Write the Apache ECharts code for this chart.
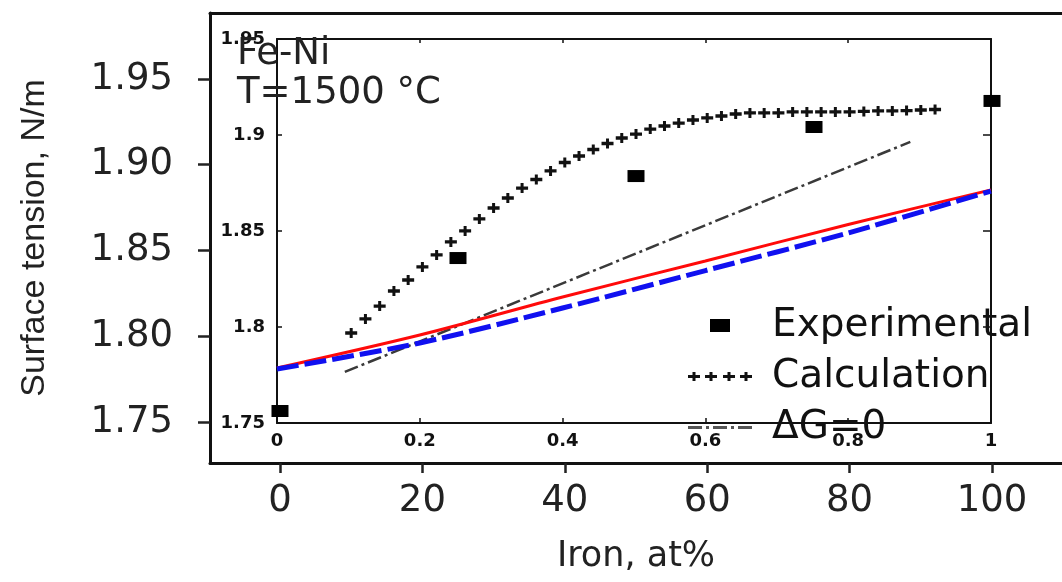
<!DOCTYPE html>
<html>
<head>
<meta charset="utf-8">
<script src="https://cdn.jsdelivr.net/npm/echarts@6/dist/echarts.min.js"></script>
<style>
  html, body { margin: 0; padding: 0; background: #fff; }
  #chart { width: 1062px; height: 582px; }
</style>
</head>
<body>
<div id="chart"></div>
<script>
// outer axes (Iron, at%  /  Surface tension, N/m)
const outerXTicks = [0, 20, 40, 60, 80, 100];
const outerYTicks = [1.75, 1.80, 1.85, 1.90, 1.95];

// experimental points (outer axes)
const expX = [0, 25, 50, 75, 100];
const expY = [1.7564, 1.8456, 1.8934, 1.9220, 1.9372];

// calculation (outer axes)
const calcX = [10, 12, 14, 16, 18, 20, 22, 24, 26, 28, 30, 32, 34, 36, 38, 40, 42, 44, 46, 48, 50,
  52, 54, 56, 58, 60, 62, 64, 66, 68, 70, 72, 74, 76, 78, 80, 82, 84, 86, 88, 90, 92];
const calcY = [1.8019, 1.8101, 1.8176, 1.8264, 1.8328, 1.8404, 1.8474, 1.8550, 1.8614, 1.8684,
  1.8748, 1.8806, 1.8864, 1.8914, 1.8964, 1.9013, 1.9051, 1.9089, 1.9124, 1.9156, 1.9179,
  1.9208, 1.9226, 1.9243, 1.9261, 1.9273, 1.9284, 1.9296, 1.9302, 1.9302, 1.9302, 1.9308,
  1.9308, 1.9308, 1.9308, 1.9308, 1.9311, 1.9314, 1.9314, 1.9316, 1.9319, 1.9322];

// inner axes (mole fraction)
const redX = [0, 0.2, 0.4, 0.6, 0.8, 1];
const redY = [1.7786, 1.7958, 1.8156, 1.8344, 1.8534, 1.8714];
const blueX = [0, 0.2, 0.4, 0.6, 0.8, 1];
const blueY = [1.7781, 1.7917, 1.8099, 1.8294, 1.8490, 1.8708];
const dgX = [0.095, 0.887];
const dgY = [1.7766, 1.8964];

const zip = (xs, ys) => xs.map((x, i) => [x, ys[i]]);

const plusPath = 'path://M0,3H4.5V0H7.5V3H12V6H7.5V9H4.5V6H0Z';
const squareIcon = 'path://M0,0H20V13H0Z';
const fourPlus = 'path://' + [0, 17, 35, 52].map(o =>
  `M${o},3H${o + 4.5}V0H${o + 7.5}V3H${o + 12}V6H${o + 7.5}V9H${o + 4.5}V6H${o}Z`).join('');
// dash-dot swatch for the legend
const dashDot = 'path://M0,0H14V3H0ZM18,0H21V3H18ZM25,0H39V3H25ZM43,0H46V3H43ZM50,0H64V3H50Z';

const bigFont = 'DejaVu Sans';
const smallLabel = { fontFamily: bigFont, fontWeight: 'bold', fontSize: 18, color: '#111' };

const chart = echarts.init(document.getElementById('chart'));
chart.setOption({
  animation: false,
  backgroundColor: '#fff',
  title: {
    text: 'Fe-Ni\nT=1500 °C',
    left: 232,
    top: 30,
    textStyle: { fontFamily: bigFont, fontSize: 37, fontWeight: 'normal', color: '#222', lineHeight: 39 }
  },
  legend: {
    orient: 'vertical',
    left: 683,
    top: 301,
    itemWidth: 64,
    itemHeight: 13,
    itemGap: 12,
    selectedMode: false,
    textStyle: { fontFamily: bigFont, fontSize: 39, color: '#111', padding: [0, 0, 0, 15], lineHeight: 38 },
    data: [
      { name: 'Experimental', icon: squareIcon, itemStyle: { color: '#000', opacity: 1 } },
      { name: 'Calculation', icon: fourPlus, itemStyle: { color: '#111', opacity: 1 } },
      { name: 'ΔG=0', icon: dashDot, itemStyle: { color: '#555', opacity: 1 } }
    ]
  },
  grid: [
    { left: 210, right: 0, top: 13, bottom: 119 },
    { left: 277, right: 71, top: 39, bottom: 159 }
  ],
  xAxis: [
    {
      gridIndex: 0, type: 'value', min: -9.83, max: 109.83, position: 'bottom',
      axisLine: { onZero: false, lineStyle: { color: '#111', width: 3 } },
      axisTick: { customValues: outerXTicks, length: 10, lineStyle: { color: '#222', width: 2.5 } },
      axisLabel: { customValues: outerXTicks, margin: 20, fontFamily: bigFont, fontSize: 37, color: '#222' },
      splitLine: { show: false },
      name: 'Iron, at%', nameLocation: 'middle', nameGap: 76,
      nameTextStyle: { fontFamily: bigFont, fontSize: 35, color: '#222' }
    },
    {
      gridIndex: 0, type: 'value', min: -9.83, max: 109.83, position: 'top',
      axisLine: { onZero: false, lineStyle: { color: '#111', width: 3 } },
      axisTick: { show: false }, axisLabel: { show: false }, splitLine: { show: false }
    },
    {
      gridIndex: 1, type: 'value', min: 0, max: 1, interval: 0.2, position: 'bottom',
      axisLine: { onZero: false, lineStyle: { color: '#111', width: 2 } },
      axisTick: { inside: true, length: 5, lineStyle: { color: '#111', width: 1.5 } },
      axisLabel: Object.assign({ margin: 9 }, smallLabel),
      splitLine: { show: false }
    },
    {
      gridIndex: 1, type: 'value', min: 0, max: 1, interval: 0.2, position: 'top',
      axisLine: { onZero: false, lineStyle: { color: '#111', width: 2 } },
      axisTick: { inside: true, length: 4, lineStyle: { color: '#111', width: 1.5 } },
      axisLabel: { show: false }, splitLine: { show: false }
    }
  ],
  yAxis: [
    {
      gridIndex: 0, type: 'value', min: 1.72609, max: 1.98848, position: 'left',
      axisLine: { onZero: false, lineStyle: { color: '#111', width: 3 } },
      axisTick: { customValues: outerYTicks, length: 12, lineStyle: { color: '#222', width: 2.5 } },
      axisLabel: {
        customValues: outerYTicks, margin: 37, fontFamily: bigFont, fontSize: 37, color: '#222',
        formatter: v => v.toFixed(2)
      },
      splitLine: { show: false },
      name: 'Surface tension, N/m', nameLocation: 'middle', nameGap: 158,
      nameTextStyle: { fontFamily: 'Liberation Sans', fontSize: 34, color: '#222' }
    },
    {
      gridIndex: 1, type: 'value', min: 1.75, max: 1.95, interval: 0.05, position: 'left',
      axisLine: { onZero: false, lineStyle: { color: '#111', width: 2 } },
      axisTick: { inside: true, length: 5, lineStyle: { color: '#111', width: 1.5 } },
      axisLabel: Object.assign({ margin: 12 }, smallLabel),
      splitLine: { show: false }
    },
    {
      gridIndex: 1, type: 'value', min: 1.75, max: 1.95, interval: 0.05, position: 'right',
      axisLine: { onZero: false, lineStyle: { color: '#111', width: 2 } },
      axisTick: { inside: true, length: 8, lineStyle: { color: '#111', width: 1.5 } },
      axisLabel: { show: false }, splitLine: { show: false }
    }
  ],
  series: [
    {
      name: 'Experimental', type: 'scatter', xAxisIndex: 0, yAxisIndex: 0,
      symbol: 'rect', symbolSize: [17, 12], itemStyle: { color: '#000', opacity: 1 },
      data: zip(expX, expY), z: 6
    },
    {
      name: 'Calculation', type: 'scatter', xAxisIndex: 0, yAxisIndex: 0,
      symbol: plusPath, symbolSize: [12, 10], itemStyle: { color: '#111', opacity: 1 },
      data: zip(calcX, calcY), z: 5
    },
    {
      name: 'ΔG=0', type: 'line', xAxisIndex: 2, yAxisIndex: 1,
      showSymbol: false, symbol: 'none',
      lineStyle: { color: '#3a3a3a', width: 2.5, type: [14, 4, 3, 4] },
      itemStyle: { color: '#3a3a3a' },
      data: zip(dgX, dgY), z: 3
    },
    {
      name: 'model1', type: 'line', xAxisIndex: 2, yAxisIndex: 1,
      showSymbol: false, symbol: 'none', smooth: 0.3,
      lineStyle: { color: '#ff0a0a', width: 3 },
      data: zip(redX, redY), z: 3
    },
    {
      name: 'model2', type: 'line', xAxisIndex: 2, yAxisIndex: 1,
      showSymbol: false, symbol: 'none', smooth: 0.3,
      lineStyle: { color: '#1010f0', width: 5, type: [22, 6] },
      data: zip(blueX, blueY), z: 4
    }
  ]
});
</script>
</body>
</html>
